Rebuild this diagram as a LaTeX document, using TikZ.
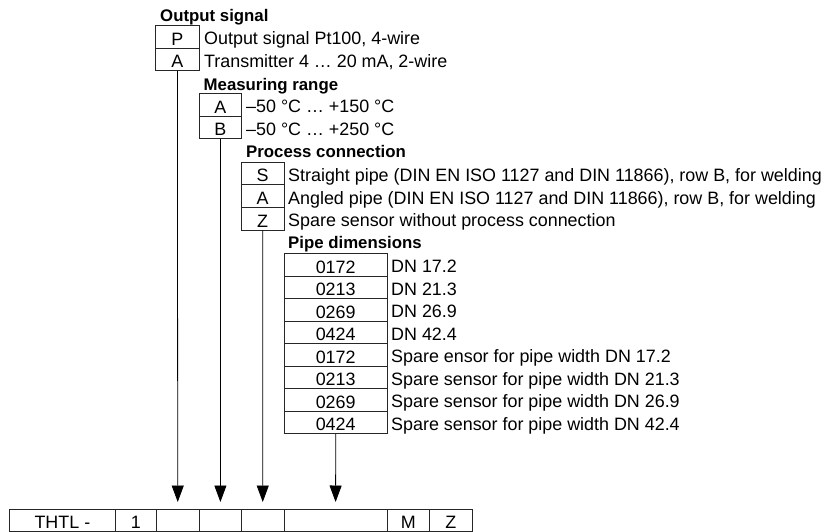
\documentclass[tikz,border=0pt]{standalone}
\usepackage{fontspec}
\setmainfont{Liberation Sans}
\usetikzlibrary{arrows.meta}
\begin{document}
\begin{tikzpicture}[x=1pt,y=-1pt,
  every node/.style={font=\fontsize{17.9}{20}\selectfont},
  codebox/.style={draw=black!85, line width=0.8pt, anchor=north west, inner sep=0pt,
    minimum height=22.6pt, text height=16.7pt, text depth=0pt},
  cellbox/.style={draw=black!85, line width=0.8pt, anchor=north west, inner sep=0pt,
    minimum height=22pt, text height=16pt, text depth=0pt},
  desc/.style={anchor=base west, inner sep=0pt},
  grouptitle/.style={anchor=base west, inner sep=0pt, font=\fontsize{16.8}{20}\selectfont\bfseries},
  conn/.style={line width=0.8pt, black, -{Triangle[length=16.5pt,width=12pt]}, shorten >=7pt}
]
\useasboundingbox (0,0) rectangle (827,532);

% Output signal
\node[grouptitle] (t1) at (160,21.5) {Output signal};
\node[codebox, minimum width=44pt] (o1) at (155,25) {P};
\node[codebox, minimum width=44pt] (o2) at (155,47.6) {A};
\node[desc] (d1) at (204,44.7) {Output signal Pt100, 4-wire};
\node[desc] (d2) at (204,67.3) {Transmitter 4 … 20 mA, 2-wire};

% Measuring range
\node[grouptitle] (t2) at (203.5,90.3) {Measuring range};
\node[codebox, minimum width=42pt] (m1) at (199,93.2) {A};
\node[codebox, minimum width=42pt] (m2) at (199,115.8) {B};
\node[desc] (d3) at (246,112.9) {–50 °C … +150 °C};
\node[desc] (d4) at (246,135.5) {–50 °C … +250 °C};

% Process connection
\node[grouptitle] (t3) at (246,157.8) {Process connection};
\node[codebox, minimum width=42.6pt] (p1) at (241,161.8) {S};
\node[codebox, minimum width=42.6pt] (p2) at (241,184.4) {A};
\node[codebox, minimum width=42.6pt] (p3) at (241,207) {Z};
\node[desc] (d5) at (288,181.5) {Straight pipe (DIN EN ISO 1127 and DIN 11866), row B, for welding};
\node[desc] (d6) at (288,204.1) {Angled pipe (DIN EN ISO 1127 and DIN 11866), row B, for welding};
\node[desc] (d7) at (288,226.7) {Spare sensor without process connection};

% Pipe dimensions
\node[grouptitle] (t4) at (288,248.5) {Pipe dimensions};
\foreach \c/\t [count=\i from 0] in {0172/DN 17.2, 0213/DN 21.3, 0269/DN 26.9, 0424/DN 42.4,
  0172/Spare ensor for pipe width DN 17.2, 0213/Spare sensor for pipe width DN 21.3,
  0269/Spare sensor for pipe width DN 26.9, 0424/Spare sensor for pipe width DN 42.4}{
  \node[codebox, minimum width=103.4pt] (q\i) at (283.6,{253+22.5*\i}) {\c};
  \node[desc] (e\i) at (391,{253+22.5*\i+19.6}) {\t};
}

% Bottom type code row
\node[cellbox, minimum width=106pt] (c1) at (9,509) {THTL -};
\node[cellbox, minimum width=40.7pt] (c2) at (115,509) {1};
\node[cellbox, minimum width=43.3pt] (c3) at (155.7,509) {};
\node[cellbox, minimum width=42pt] (c4) at (199,509) {};
\node[cellbox, minimum width=42.7pt] (c5) at (241,509) {};
\node[cellbox, minimum width=103pt] (c6) at (283.7,509) {};
\node[cellbox, minimum width=42.3pt] (c7) at (386.7,509) {M};
\node[cellbox, minimum width=42.7pt] (c8) at (429,509) {Z};

% Connectors
\draw[conn] (o2.south) -- (c3.north);
\draw[conn] (m2.south) -- (c4.north);
\draw[conn] (p3.south) -- (c5.north);
\draw[conn] (q7.south) -- (c6.north);
\end{tikzpicture}
\end{document}
